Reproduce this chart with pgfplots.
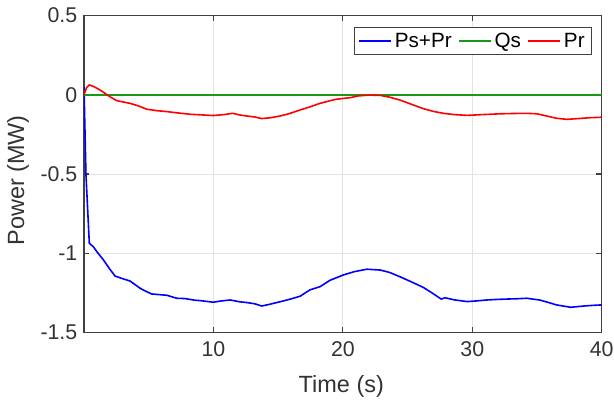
\documentclass[border=0pt]{standalone}
\usepackage{fontspec}
\setmainfont{Liberation Sans}
\usepackage{pgfplots}
\pgfplotsset{compat=1.18}

\definecolor{axgray}{gray}{0.25}
\definecolor{psblue}{rgb}{0,0,1}
\definecolor{qsgreen}{rgb}{0.1,0.6,0.1}
\definecolor{prred}{rgb}{1,0,0}

\begin{document}
\begin{tikzpicture}
\begin{axis}[
  scale only axis,
  width=388.3pt, height=237.9pt,
  xmin=0, xmax=40, ymin=-1.5, ymax=0.5,
  xtick={10,20,30,40},
  ytick={-1.5,-1,-0.5,0,0.5},
  grid=major,
  major grid style={gray!22, line width=0.6pt},
  tick align=inside,
  major tick length=4pt,
  axis line style={axgray, line width=0.9pt},
  tick style={axgray, line width=0.9pt},
  /pgf/number format/assume math mode=true,
  ticklabel style={font=\fontsize{16}{16}\selectfont, text=black!80},
  xticklabel style={yshift=-3pt},
  yticklabel style={xshift=-1.5pt},
  xlabel={Time (s)}, ylabel={Power (MW)},
  label style={font=\fontsize{17.6}{18}\selectfont, text=black!80},
  xlabel style={at={(axis description cs:0.497,0)}, anchor=center, yshift=-40pt},
  ylabel style={at={([xshift=-49.5pt]axis description cs:0,0.48)}, anchor=center},
  legend columns=3,
  legend image code/.code={\draw[#1] (0pt,0pt) -- (24pt,0pt);},
  legend style={
    at={(rel axis cs:0.981,0.964)}, anchor=north east,
    draw=axgray, line width=0.9pt,
    font=\fontsize{15.5}{16}\selectfont,
    inner xsep=3pt, inner ysep=2pt,
    nodes={inner xsep=2pt, inner ysep=2pt},
    /tikz/every even column/.append style={column sep=3pt},
  },
]
\addplot[psblue, line width=1.2pt] coordinates {
(0,0.05) (0.15,-0.50) (0.41,-0.936) (0.72,-0.958) (1.0,-0.99) (1.49,-1.04)
(2.0,-1.10) (2.4,-1.143) (3.0,-1.16) (3.55,-1.174) (4.0,-1.20) (4.33,-1.22)
(4.8,-1.24) (5.23,-1.256) (5.8,-1.26) (6.39,-1.264) (7.16,-1.283) (7.8,-1.285)
(8.45,-1.294) (9.2,-1.30) (10,-1.308) (10.6,-1.30) (11.3,-1.294) (12.0,-1.305)
(12.57,-1.31) (13.2,-1.318) (13.73,-1.332) (14.3,-1.322) (14.9,-1.31) (15.5,-1.298)
(16.17,-1.283) (16.7,-1.27) (17.46,-1.23) (18.24,-1.21) (19.0,-1.17) (20.04,-1.136)
(20.9,-1.115) (21.85,-1.10) (22.88,-1.105) (23.6,-1.12) (24.4,-1.147) (25.3,-1.18)
(26.2,-1.214) (26.9,-1.25) (27.6,-1.288) (27.9,-1.28) (28.6,-1.293) (29.6,-1.304)
(30.3,-1.30) (31.1,-1.294) (32.0,-1.29) (32.7,-1.288) (33.5,-1.286) (34.2,-1.283)
(35.2,-1.294) (35.9,-1.31) (36.5,-1.325) (37.6,-1.34) (38.6,-1.332) (39.3,-1.328)
(40,-1.325)
};
\addlegendentry{Ps+Pr}
\addplot[qsgreen, line width=1.2pt] coordinates {(0,0) (40,0)};
\addlegendentry{Qs}
\addplot[prred, line width=1.2pt] coordinates {
(0,0) (0.2,0.045) (0.41,0.062) (0.8,0.05) (1.24,0.03) (1.6,0.01) (2.0,-0.012)
(2.52,-0.037) (3.0,-0.045) (3.55,-0.054) (4.2,-0.07) (4.84,-0.091) (5.6,-0.10)
(6.39,-0.106) (7.3,-0.115) (8.2,-0.123) (9.1,-0.127) (10,-0.131) (10.8,-0.125)
(11.5,-0.117) (12.0,-0.127) (12.57,-0.134) (13.2,-0.14) (13.73,-0.15) (14.4,-0.145)
(15.15,-0.134) (15.9,-0.118) (16.7,-0.096) (17.5,-0.075) (18.24,-0.054) (18.9,-0.04)
(19.5,-0.028) (20.6,-0.018) (21.1,-0.008) (22.0,-0.002) (22.9,-0.004) (23.6,-0.015)
(24.4,-0.033) (25.3,-0.06) (26.2,-0.087) (27.0,-0.105) (27.77,-0.117) (28.6,-0.125)
(29.6,-0.13) (30.8,-0.125) (32.15,-0.12) (33.2,-0.118) (34.2,-0.117) (35.0,-0.12)
(35.8,-0.135) (36.5,-0.148) (37.3,-0.155) (38.2,-0.15) (39.0,-0.145) (39.9,-0.142)
(40,-0.142)
};
\addlegendentry{Pr}
\end{axis}
\pgfresetboundingbox
\useasboundingbox (-63pt,-50.5pt) rectangle (397.5pt,249.5pt);
\end{tikzpicture}
\end{document}
